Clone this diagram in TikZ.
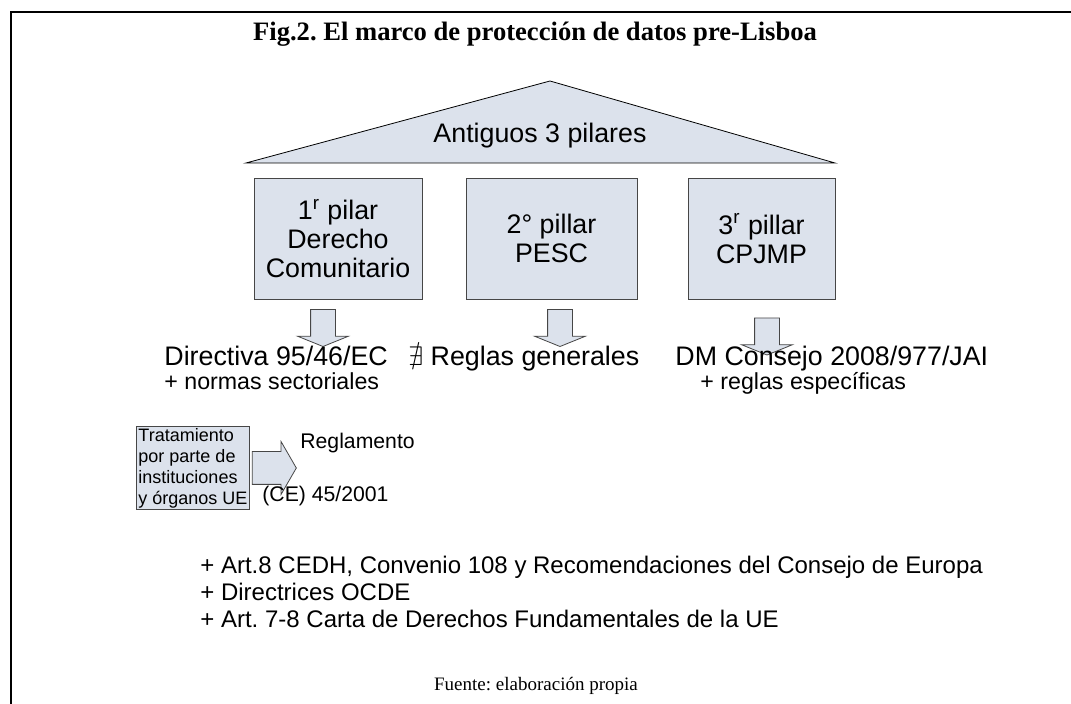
\documentclass[tikz,border=0pt]{standalone}
\usepackage{amssymb}
\usepackage{fontspec}
\setmainfont{Liberation Serif}
\newfontfamily\arialfont{Liberation Sans}
\usetikzlibrary{shapes.arrows}
\frenchspacing

\definecolor{pilarfill}{RGB}{220,226,236}
\definecolor{pilarline}{RGB}{70,70,70}

\tikzset{
  pilar/.style={draw=pilarline,fill=pilarfill,align=center,inner sep=0pt,
    font=\arialfont\fontsize{13.4}{14.5}\selectfont,minimum height=60.5pt},
  downarrow/.style={single arrow,draw=pilarline,fill=pilarfill,shape border rotate=270,
    inner sep=6pt,minimum height=18.5pt,minimum width=25pt,single arrow head extend=6.5pt,
    single arrow tip angle=136},
  rightarrow/.style={single arrow,draw=pilarline,fill=pilarfill,
    inner sep=8pt,minimum height=22pt,minimum width=26pt,single arrow head extend=5pt,
    single arrow tip angle=120},
  rule/.style={font=\arialfont\fontsize{13.4}{15}\selectfont,inner sep=0pt},
  rulesub/.style={font=\arialfont\fontsize{11.6}{14}\selectfont,inner sep=0pt,anchor=base west},
  extra/.style={font=\arialfont\fontsize{12}{14}\selectfont,inner sep=0pt,anchor=base west}
}

\begin{document}
\begin{tikzpicture}[x=0.5pt,y=-0.5pt]
  \useasboundingbox (0,0) rectangle (1071,704);
  \draw[line width=1.1pt] (11,704) -- (11,12) -- (1071,12);

  \node[font=\bfseries\fontsize{13.3}{15}\selectfont,anchor=base] (title) at (535,41)
    {Fig.2. El marco de protección de datos pre-Lisboa};

  % techo
  \draw[fill=pilarfill] (246,163) -- (550,81) -- (835,163) -- cycle;
  \node[rule,anchor=base] (roof) at (540,143) {Antiguos 3 pilares};

  % pilares
  \node[pilar,minimum width=84pt] (p1) at (338,238.5)
    {1\textsuperscript{r} pilar\\Derecho\\Comunitario};
  \node[pilar,minimum width=85.5pt] (p2) at (551.5,238.5) {2° pillar\\PESC};
  \node[pilar,minimum width=73.5pt] (p3) at (761.5,238.5)
    {3\textsuperscript{r} pillar\\CPJMP};

  \node[downarrow] (a1) at (323,325.5) {};
  \node[downarrow] (a2) at (560,325.5) {};
  \node[downarrow] (a3) at (767,334) {};

  \node[rule,anchor=base west] (dir) at (164,366) {Directiva 95/46/EC};
  \node[rule,anchor=base west] (gen) at (408,366) {$\nexists$ Reglas generales};
  \node[rule,anchor=base west] (dm) at (675,366) {DM Consejo 2008/977/JAI};
  \node[rulesub] (sect) at (164,390) {+ normas sectoriales};
  \node[rulesub] (espec) at (700,390) {+ reglas específicas};

  % instituciones
  \node[draw=pilarline,fill=pilarfill,align=left,inner sep=1pt,
    font=\arialfont\fontsize{9}{10.5}\selectfont] (inst) at (193,468)
    {Tratamiento\\por parte de\\instituciones\\y órganos UE};
  \node[rightarrow,anchor=tail] (a4) at ([xshift=1]inst.east) {};
  \node[rule,anchor=base west,font=\arialfont\fontsize{10.6}{13}\selectfont] (regl) at (300,449) {Reglamento};
  \node[rule,anchor=base west,font=\arialfont\fontsize{10.6}{13}\selectfont] (ce) at (262,502) {(CE) 45/2001};

  \node[extra] (cedh) at (200,574) {+ Art.8 CEDH, Convenio 108 y Recomendaciones del Consejo de Europa};
  \node[extra] (ocde) at (200,601) {+ Directrices OCDE};
  \node[extra] (carta) at (200,628) {+ Art. 7-8 Carta de Derechos Fundamentales de la UE};

  \node[font=\fontsize{9.5}{12}\selectfont,anchor=base] (fuente) at (536,691)
    {Fuente: elaboración propia};
\end{tikzpicture}
\end{document}
